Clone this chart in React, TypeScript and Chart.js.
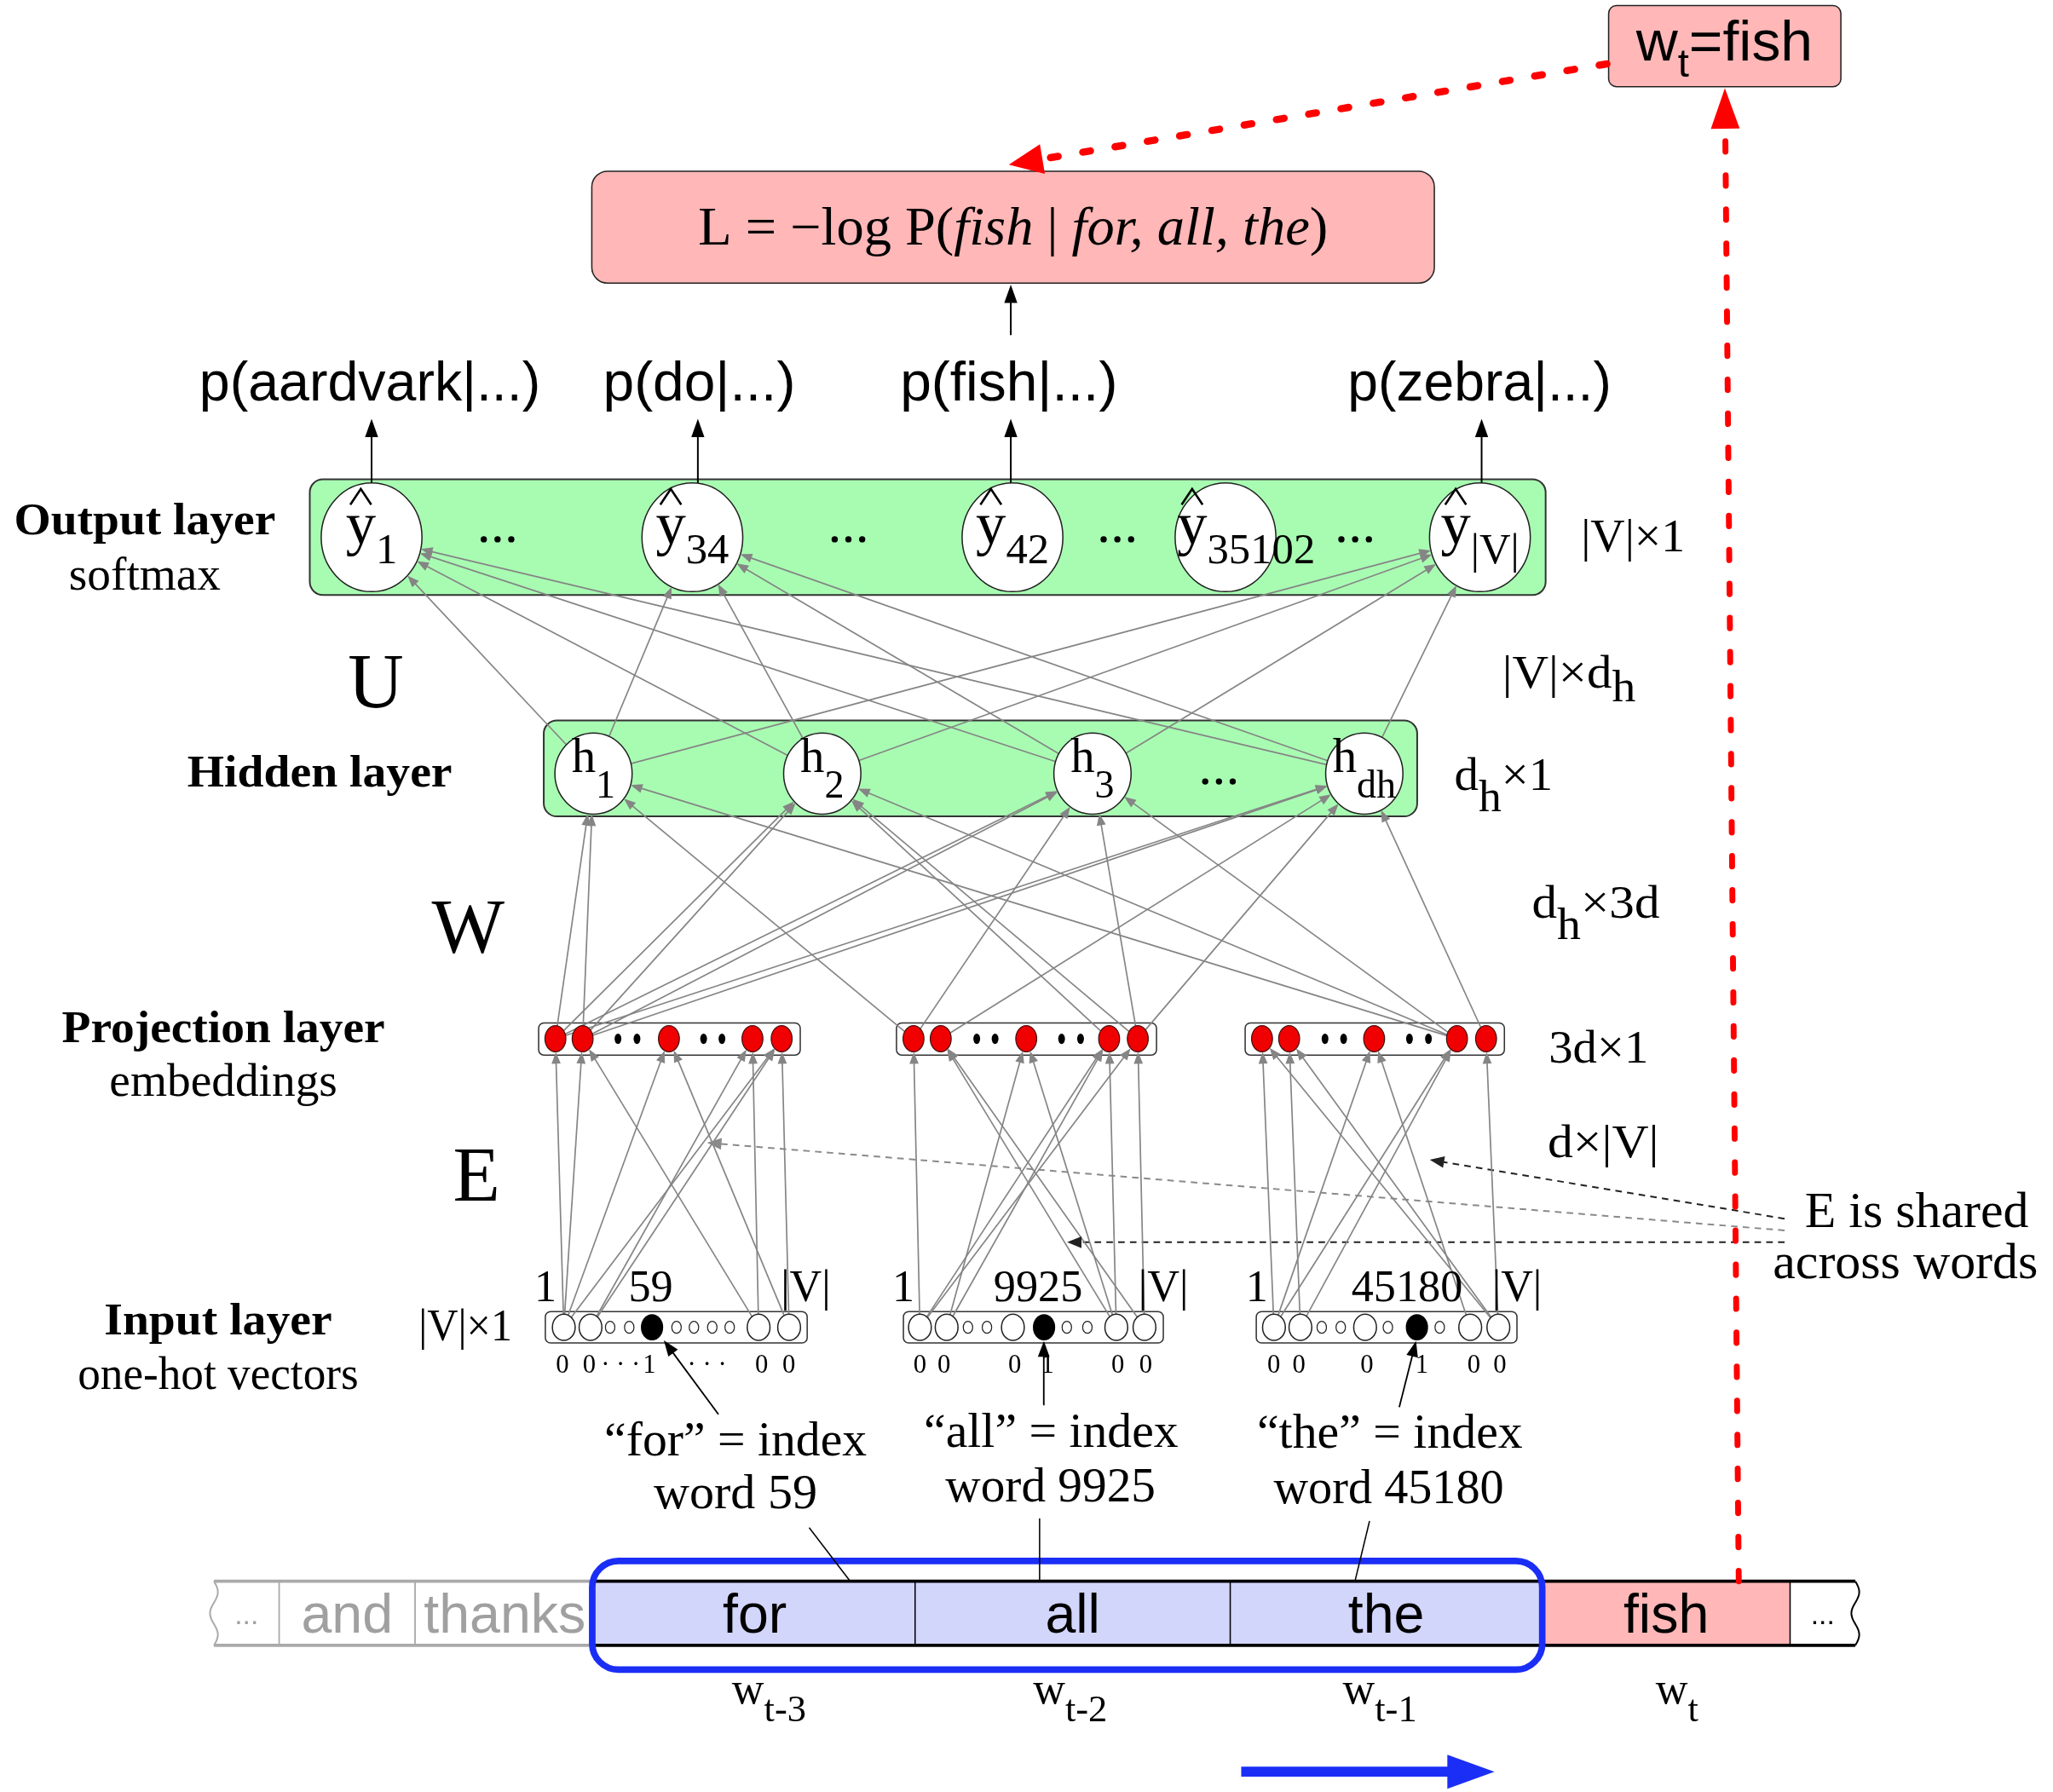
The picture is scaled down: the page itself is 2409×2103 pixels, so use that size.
import React, { useEffect, useRef } from "react";
import { Chart, registerables } from "chart.js";

Chart.register(...registerables);

/* ---------------- values ---------------- */
const targetWord = "fish";
const contextWords = ["for", "all", "the"];
const contextIndices = ["59", "9925", "45180"];
const probWords = ["aardvark", "do", "fish", "zebra"];
const probNodeIndex = [0, 1, 2, 4];
const outputIndices = ["1", "34", "42", "35102", "|V|"];
const hiddenIndices = ["1", "2", "3", "dh"];
const sequenceWords = ["...", "and", "thanks", "for", "all", "the", "fish", "..."];
const sequenceRoles = ["past", "past", "past", "context", "context", "context", "target", "future"];
const positionSubscripts = ["t-3", "t-2", "t-1", "t"];
const layerTitles = ["Output layer", "Hidden layer", "Projection layer", "Input layer"];
const layerSubtitles = ["softmax", "", "embeddings", "one-hot vectors"];
const weightNames = ["U", "W", "E"];
const dimensionLabels = ["|V|×1", "|V|×d_h", "d_h×1", "d_h×3d", "3d×1", "d×|V|", "|V|×1"];
const vectorEndLabels = ["1", "|V|"];
const oneHotDigits = [
  ["0", "0", "· · ·", "1", "· · ·", "0", "0"],
  ["0", "0", "0", "1", "0", "0"],
  ["0", "0", "0", "1", "0", "0"],
];
const inputKinds = ["oossfssssoo", "oossofssoo", "oossosfsoo"];
const projectionKinds = "rrddrddrr";
const sharedNote = ["E is shared", "across words"];
// [hidden, output]
const hiddenToOutputEdges = [
  [0, 0], [0, 1], [0, 4], [1, 0], [1, 1], [1, 4],
  [2, 0], [2, 1], [2, 4], [3, 0], [3, 1], [3, 4],
];
// [block, projection red node, hidden]
const projectionToHiddenEdges = [
  [0, 0, 0], [0, 1, 0], [0, 0, 1], [0, 1, 1], [0, 0, 2], [0, 1, 2], [0, 0, 3], [0, 1, 3],
  [1, 0, 0], [1, 0, 2], [1, 1, 3], [1, 3, 1], [1, 4, 1], [1, 4, 2], [1, 4, 3],
  [2, 3, 0], [2, 3, 1], [2, 3, 2], [2, 4, 3],
];
// [block, input node, projection red node]
const inputToProjectionEdges = [
  [0, 0, 0], [0, 0, 1], [0, 9, 1], [0, 0, 2], [0, 10, 2], [0, 1, 3], [0, 9, 3], [0, 0, 4], [0, 1, 4], [0, 10, 4],
  [1, 0, 0], [1, 0, 3], [1, 1, 3], [1, 1, 2], [1, 0, 4], [1, 8, 1], [1, 9, 1], [1, 8, 2], [1, 8, 3], [1, 9, 4],
  [2, 0, 0], [2, 9, 0], [2, 1, 1], [2, 9, 1], [2, 0, 2], [2, 8, 2], [2, 1, 3], [2, 0, 3], [2, 9, 4],
];

/* ---------------- layout (reference units, 1568 x 1369) ---------------- */
const W = 2409;
const H = 2103;
const REF_W = 1568;
const REF_H = 1369;
const K = W / REF_W;

const SERIF = '"Liberation Serif", "Times New Roman", serif';
const SANS = '"Liberation Sans", Arial, sans-serif';
const GRAY = "#858585";
const PINK = "#ffb7b7";
const GREEN = "#a8fcb2";
const LAV = "#d3d6fb";
const BLUE = "#1b2ef5";

const OUT_Y = 410.5, OUT_RX = 38.5, OUT_RY = 41.5;
const outNodeX = [283.8, 528.8, 773.3, 936, 1130.3];
const outDotsX = [380, 648, 853.4, 1035];
const probLabelX = [282.5, 534, 770.5, 1130];
const probLabelW = [260.6, 147, 166.1, 201.5];
const probArrowX = [283.8, 533, 772, 1131.6];
const HID_Y = 591, HID_RX = 29.5, HID_RY = 31;
const hidNodeX = [453.3, 628, 834.4, 1042];
const HID_DOTS_X = 931;
const projBoxX = [[411.4, 611.2], [684.7, 883.3], [951, 1149]];
const PROJ_Y0 = 781.5, PROJ_Y1 = 806, PROJ_Y = 793.6;
const projSlotX = [
  [424.2, 445, 472, 486.5, 510.9, 537.4, 551.4, 574.7, 597],
  [697.7, 718.5, 746, 760, 783.8, 810.8, 825.3, 847.1, 869],
  [963.9, 984.6, 1012, 1026.2, 1049.5, 1076.5, 1091, 1112.8, 1135],
];
const inBoxX = [[416.5, 616.5], [690, 888.5], [959.5, 1158.6]];
const IN_Y0 = 1002, IN_Y1 = 1026, IN_Y = 1014;
const inNodeX = [
  [430.6, 451, 466, 480.6, 498, 516.7, 530, 544, 557.3, 579.4, 602.7],
  [702.6, 723, 739.3, 753.8, 773.6, 797.4, 814.8, 830.5, 852.6, 874.1],
  [973, 993.2, 1009.5, 1024, 1042.6, 1060, 1082.2, 1099.6, 1122.9, 1144.4],
];
const oneHotX = [
  [429.6, 450, 474, 496, 540, 581.7, 602.5],
  [702.6, 721, 775, 800, 853.7, 875],
  [972.8, 992, 1044, 1086, 1125.7, 1145.6],
];
const endLabelX = [[416.6, 615.4], [690, 888.5], [960, 1158.6]];
const indexLabelX = [497, 792.8, 1074.6];
const wordIdxPos = [[561.8, 1111.7, 200.5], [802.8, 1105.3, 194.4], [1061.5, 1106.3, 202.9]];
const wordNumPos = [[561.7, 1152, 125], [802.3, 1147, 160.6], [1060.7, 1148, 175.9]];
const pointerLines = [[618, 1167, 649, 1207.5], [794, 1160, 794, 1207.5], [1046, 1162, 1035, 1207.5]];
const pointerArrows = [[548.7, 1080.5, 507, 1024], [796.7, 1073, 797.3, 1024.5], [1068.7, 1075, 1081.5, 1024.5]];
const cellEdges = [163.4, 213.2, 317, 454, 698.9, 939.6, 1177.9, 1367.2, 1417];
const STRIP_Y0 = 1208, STRIP_Y1 = 1257;
const posLabelX = [559, 789, 1025.5, 1264.5];
const titlePos = [[110.6, 407.9, 199.6], [244.2, 601, 202.3], [170.6, 796, 246.8], [166.6, 1019.7, 174]];
const subtitlePos = [[110.6, 450.3, 116], null, [170.6, 837, 174.1], [166.6, 1060.8, 214.4]];
const weightPos = [[287, 540.3], [357.5, 727.5], [364, 917]];
const dimPos = [
  [1207.5, 421.4, 79.5, 0], [1147.3, 525.6, 102, 10], [1110.8, 603.7, 75.2, 16], [1170, 701.3, 97.6, 16],
  [1182.8, 812, 76.2, 0], [1182, 884, 85, 0], [319.7, 1024, 71.5, 0],
];
const sharedLines = [[1363, 931, 1092, 886, "#222"], [1363, 940, 540, 873, "#8a8a8a"], [1363, 949, 815, 949, "#222"]];

/* ---------------- geometry helpers ---------------- */
type Pt = { x: number; y: number };
type Ell = { x: number; y: number; rx: number; ry: number };

const RED_SLOTS: number[] = [];
projectionKinds.split("").forEach((c, i) => { if (c === "r") RED_SLOTS.push(i); });

function inputSize(kind: string) {
  if (kind === "s") return [3.6, 4.6];
  if (kind === "f") return [8, 9.5];
  return [8.7, 10];
}
const outNode = (i: number): Ell => ({ x: outNodeX[i], y: OUT_Y, rx: OUT_RX, ry: OUT_RY });
const hidNode = (i: number): Ell => ({ x: hidNodeX[i], y: HID_Y, rx: HID_RX, ry: HID_RY });
const projNode = (b: number, r: number): Ell => ({ x: projSlotX[b][RED_SLOTS[r]], y: PROJ_Y, rx: 8, ry: 10 });
const inNode = (b: number, i: number): Ell => {
  const [rx, ry] = inputSize(inputKinds[b][i]);
  return { x: inNodeX[b][i], y: IN_Y, rx, ry };
};

function rim(e: Ell, toward: Pt): Pt {
  const dx = toward.x - e.x, dy = toward.y - e.y;
  const t = 1 / Math.sqrt((dx / e.rx) ** 2 + (dy / e.ry) ** 2);
  return { x: e.x + dx * t, y: e.y + dy * t };
}

function arrowDS(start: Pt, tip: Pt, color: string, width: number, len: number, half: number, extra: any = {}) {
  const d = Math.hypot(tip.x - start.x, tip.y - start.y);
  const ux = (tip.x - start.x) / d, uy = (tip.y - start.y) / d;
  const base = { x: tip.x - ux * len * 0.7, y: tip.y - uy * len * 0.7 };
  return {
    data: [start, base], showLine: true, borderColor: color, borderWidth: width * K,
    pointRadius: 0, pointHoverRadius: 0, clip: false, arrow: { tip, len, half, color }, ...extra,
  };
}
function lineDS(a: Pt, b: Pt, color: string, width: number) {
  return { data: [a, b], showLine: true, borderColor: color, borderWidth: width * K, pointRadius: 0, pointHoverRadius: 0, clip: false };
}
function edgeDS(a: Ell, b: Ell) {
  return arrowDS(rim(a, b), rim(b, a), GRAY, 1.1, 9, 3.5);
}

function buildDatasets() {
  const ds: any[] = [];
  hiddenToOutputEdges.forEach(([h, o]) => ds.push(edgeDS(hidNode(h), outNode(o))));
  projectionToHiddenEdges.forEach(([b, r, h]) => ds.push(edgeDS(projNode(b, r), hidNode(h))));
  inputToProjectionEdges.forEach(([b, i, r]) => ds.push(edgeDS(inNode(b, i), projNode(b, r))));
  probNodeIndex.forEach((n, i) => {
    ds.push(arrowDS({ x: probArrowX[i], y: OUT_Y - OUT_RY + 0.5 }, { x: probArrowX[i], y: 320 }, "#000", 1.3, 14, 5));
  });
  ds.push(arrowDS({ x: 772, y: 256 }, { x: 772, y: 217.5 }, "#000", 1.3, 14, 5));
  // loss comparison arrows (red)
  ds.push(arrowDS({ x: 1227.3, y: 48.8 }, { x: 770.5, y: 125.8 }, "#ff0000", 5.5, 26, 11.5,
    { borderDash: [6 * K, 19 * K], borderCapStyle: "round" }));
  ds.push(arrowDS({ x: 1328, y: 1208 }, { x: 1317.4, y: 67.3 }, "#ff0000", 4.5, 31, 11,
    { borderDash: [8 * K, 18 * K], borderCapStyle: "round" }));
  pointerLines.forEach(([x0, y0, x1, y1]) => ds.push(lineDS({ x: x0, y: y0 }, { x: x1, y: y1 }, "#000", 1)));
  pointerArrows.forEach(([x0, y0, x1, y1]) => ds.push(arrowDS({ x: x0, y: y0 }, { x: x1, y: y1 }, "#000", 1.2, 12, 4.5)));
  sharedLines.forEach(([x0, y0, x1, y1, c]) =>
    ds.push(arrowDS({ x: x0 as number, y: y0 as number }, { x: x1 as number, y: y1 as number }, c as string, 1.3, 11, 4.5,
      { borderDash: [5 * K, 4 * K] })));
  ds.push(arrowDS({ x: 948, y: 1353.5 }, { x: 1141.4, y: 1353.5 }, BLUE, 7.6, 36, 13));
  return ds;
}

/* ---------------- drawing helpers ---------------- */
function helpers(chart: any) {
  const xs = chart.scales.x, ys = chart.scales.y;
  const X = (v: number) => xs.getPixelForValue(v);
  const Y = (v: number) => ys.getPixelForValue(v);
  const S = (v: number) => v * (X(1) - X(0));
  return { ctx: chart.ctx as CanvasRenderingContext2D, X, Y, S };
}
function fnt(g: any, size: number, fam: string, style = "") {
  return `${style} ${g.S(size)}px ${fam}`.trim();
}
function rrect(g: any, x0: number, y0: number, x1: number, y1: number, r: number) {
  const { ctx } = g;
  const X0 = g.X(x0), Y0 = g.Y(y0), X1 = g.X(x1), Y1 = g.Y(y1), R = g.S(r);
  ctx.beginPath();
  ctx.moveTo(X0 + R, Y0);
  ctx.lineTo(X1 - R, Y0);
  ctx.arcTo(X1, Y0, X1, Y0 + R, R);
  ctx.lineTo(X1, Y1 - R);
  ctx.arcTo(X1, Y1, X1 - R, Y1, R);
  ctx.lineTo(X0 + R, Y1);
  ctx.arcTo(X0, Y1, X0, Y1 - R, R);
  ctx.lineTo(X0, Y0 + R);
  ctx.arcTo(X0, Y0, X0 + R, Y0, R);
  ctx.closePath();
}
function box(g: any, x0: number, y0: number, x1: number, y1: number, r: number, fill: string, stroke: string, lw: number) {
  rrect(g, x0, y0, x1, y1, r);
  g.ctx.fillStyle = fill;
  g.ctx.fill();
  g.ctx.strokeStyle = stroke;
  g.ctx.lineWidth = g.S(lw);
  g.ctx.stroke();
}
function ell(g: any, e: Ell, fill: string | null, stroke: string | null, lw: number) {
  const { ctx } = g;
  ctx.beginPath();
  ctx.ellipse(g.X(e.x), g.Y(e.y), g.S(e.rx), g.S(e.ry), 0, 0, Math.PI * 2);
  if (fill) { ctx.fillStyle = fill; ctx.fill(); }
  if (stroke) { ctx.strokeStyle = stroke; ctx.lineWidth = g.S(lw); ctx.stroke(); }
}
function dots(g: any, cx: number, cy: number, gap: number, r: number) {
  for (let k = -1; k <= 1; k++) ell(g, { x: cx + k * gap, y: cy, rx: r, ry: r }, "#000", null, 0);
}
type Seg = { t: string; f: string; dy?: number };
function rich(g: any, segs: Seg[], x: number, y: number, align: string, color = "#000", fitW?: number) {
  const { ctx } = g;
  ctx.save();
  ctx.textBaseline = "alphabetic";
  ctx.textAlign = "left";
  ctx.fillStyle = color;
  const widths = segs.map((s) => { ctx.font = s.f; return ctx.measureText(s.t).width; });
  const total = widths.reduce((a, b) => a + b, 0);
  const sx = fitW ? g.S(fitW) / total : 1;
  const px = g.X(x);
  const left = align === "center" ? px - (total * sx) / 2 : align === "right" ? px - total * sx : px;
  ctx.translate(left, g.Y(y));
  ctx.scale(sx, 1);
  let cx = 0;
  segs.forEach((s, i) => {
    ctx.font = s.f;
    ctx.fillText(s.t, cx, g.S(s.dy || 0));
    cx += widths[i];
  });
  ctx.restore();
  return total * sx / g.S(1);
}
function text(g: any, t: string, x: number, y: number, f: string, align = "center", color = "#000", fitW?: number) {
  return rich(g, [{ t, f }], x, y, align, color, fitW);
}
function subSegs(g: any, label: string, size: number, subSize: number, dy: number): Seg[] {
  const segs: Seg[] = [];
  let buf = "";
  for (let i = 0; i < label.length; i++) {
    if (label[i] === "_" && i + 1 < label.length) {
      if (buf) segs.push({ t: buf, f: fnt(g, size, SERIF) });
      buf = "";
      segs.push({ t: label[i + 1], f: fnt(g, subSize, SERIF), dy });
      i++;
    } else buf += label[i];
  }
  if (buf) segs.push({ t: buf, f: fnt(g, size, SERIF) });
  return segs;
}

function drawBackground(g: any) {
  const { ctx } = g;
  ctx.save();
  box(g, 1228.6, 4.3, 1406, 66.2, 6, PINK, "#222", 1);
  box(g, 452, 130.8, 1095.5, 216.3, 12, PINK, "#222", 1);
  box(g, 236.6, 366.2, 1180.5, 454.5, 10, GREEN, "#333", 1.3);
  box(g, 415.3, 550.4, 1082.4, 623.7, 10, GREEN, "#333", 1.3);
  projBoxX.forEach(([a, b]) => box(g, a, PROJ_Y0, b, PROJ_Y1, 4, "#fff", "#333", 1));
  inBoxX.forEach(([a, b]) => box(g, a, IN_Y0, b, IN_Y1, 4, "#fff", "#333", 1));

  sequenceWords.forEach((w, i) => {
    const role = sequenceRoles[i];
    const fill = role === "context" ? LAV : role === "target" ? PINK : "#fff";
    ctx.fillStyle = fill;
    ctx.fillRect(g.X(cellEdges[i]), g.Y(STRIP_Y0), g.X(cellEdges[i + 1]) - g.X(cellEdges[i]), g.Y(STRIP_Y1) - g.Y(STRIP_Y0));
  });
  const hline = (x0: number, x1: number, y: number, c: string, lw: number) => {
    ctx.beginPath(); ctx.moveTo(g.X(x0), g.Y(y)); ctx.lineTo(g.X(x1), g.Y(y));
    ctx.strokeStyle = c; ctx.lineWidth = g.S(lw); ctx.stroke();
  };
  const vline = (x: number, c: string, lw: number) => {
    ctx.beginPath(); ctx.moveTo(g.X(x), g.Y(STRIP_Y0)); ctx.lineTo(g.X(x), g.Y(STRIP_Y1));
    ctx.strokeStyle = c; ctx.lineWidth = g.S(lw); ctx.stroke();
  };
  const wave = (x: number, c: string) => {
    ctx.beginPath();
    for (let k = 0; k <= 40; k++) {
      const t = k / 40;
      const px = x + 3 * Math.sin(t * Math.PI * 2 * 1.5);
      const py = STRIP_Y0 + (STRIP_Y1 - STRIP_Y0) * t;
      if (k === 0) ctx.moveTo(g.X(px), g.Y(py)); else ctx.lineTo(g.X(px), g.Y(py));
    }
    ctx.strokeStyle = c; ctx.lineWidth = g.S(1.3); ctx.stroke();
  };
  const pastEnd = cellEdges[3];
  hline(cellEdges[0], pastEnd, STRIP_Y0, "#aaa", 2.5);
  hline(cellEdges[0], pastEnd, STRIP_Y1, "#aaa", 2.5);
  hline(pastEnd, cellEdges[8], STRIP_Y0, "#000", 2.5);
  hline(pastEnd, cellEdges[8], STRIP_Y1, "#000", 2.5);
  vline(cellEdges[1], "#aaa", 1.2);
  vline(cellEdges[2], "#aaa", 1.2);
  for (let i = 3; i <= 7; i++) vline(cellEdges[i], "#000", 1);
  wave(cellEdges[0], "#aaa");
  wave(cellEdges[8], "#000");
  rrect(g, 452.3, 1192.5, 1177.9, 1275.5, 20);
  ctx.strokeStyle = BLUE;
  ctx.lineWidth = g.S(5);
  ctx.stroke();
  ctx.restore();
}

function drawNodes(g: any) {
  const { ctx } = g;
  ctx.save();
  outNodeX.forEach((_, i) => ell(g, outNode(i), "#fff", "#222", 1));
  hidNodeX.forEach((_, i) => ell(g, hidNode(i), "#fff", "#222", 1));
  projSlotX.forEach((slots) => {
    slots.forEach((x, s) => {
      if (projectionKinds[s] === "r") ell(g, { x, y: PROJ_Y, rx: 8, ry: 10 }, "#f00000", "#401010", 0.8);
      else ell(g, { x, y: PROJ_Y, rx: 2.6, ry: 4 }, "#000", null, 0);
    });
  });
  inNodeX.forEach((xs, b) => {
    xs.forEach((x, i) => {
      const kind = inputKinds[b][i];
      const [rx, ry] = inputSize(kind);
      if (kind === "f") ell(g, { x, y: IN_Y, rx, ry }, "#000", "#000", 1);
      else ell(g, { x, y: IN_Y, rx, ry }, "#fff", "#222", kind === "s" ? 0.8 : 1);
    });
  });
  ctx.restore();
}

function drawArrowHeads(chart: any, g: any) {
  const { ctx } = g;
  ctx.save();
  chart.data.datasets.forEach((ds: any) => {
    if (!ds.arrow) return;
    const { tip, len, half, color } = ds.arrow;
    const start = ds.data[0];
    const d = Math.hypot(tip.x - start.x, tip.y - start.y);
    const ux = (tip.x - start.x) / d, uy = (tip.y - start.y) / d;
    const bx = tip.x - ux * len, by = tip.y - uy * len;
    const nx = -uy, ny = ux;
    ctx.beginPath();
    ctx.moveTo(g.X(tip.x), g.Y(tip.y));
    ctx.lineTo(g.X(bx + nx * half), g.Y(by + ny * half));
    ctx.lineTo(g.X(bx - nx * half), g.Y(by - ny * half));
    ctx.closePath();
    ctx.fillStyle = color;
    ctx.fill();
  });
  ctx.restore();
}

function drawTexts(g: any) {
  const { ctx } = g;
  rich(g, [
    { t: "w", f: fnt(g, 43, SANS) },
    { t: "t", f: fnt(g, 30, SANS), dy: 12.6 },
    { t: "=" + targetWord, f: fnt(g, 43, SANS) },
  ], 1317, 46, "center", "#000", 135);
  rich(g, [
    { t: "L = \u2212log P(", f: fnt(g, 41, SERIF) },
    { t: targetWord, f: fnt(g, 41, SERIF, "italic") },
    { t: " | ", f: fnt(g, 41, SERIF) },
    { t: contextWords.join(", "), f: fnt(g, 41, SERIF, "italic") },
    { t: ")", f: fnt(g, 41, SERIF) },
  ], 773.75, 186.6, "center", "#000", 481);
  probWords.forEach((w, i) => text(g, `p(${w}|...)`, probLabelX[i], 306, fnt(g, 42, SANS), "center", "#000", probLabelW[i]));
  outputIndices.forEach((idx, i) => {
    const segs = [{ t: "y", f: fnt(g, 46, SERIF) }, { t: idx, f: fnt(g, 33, SERIF), dy: 15 }];
    ctx.font = segs[0].f;
    const yw = ctx.measureText("y").width / g.S(1);
    ctx.font = segs[1].f;
    const sw = ctx.measureText(idx).width / g.S(1);
    const cx = outNodeX[i];
    const left = Math.max(cx - (yw + sw) / 2, cx - OUT_RX + 1.5);
    rich(g, segs, left, 415, "left");
    const hx = left + yw / 2;
    ctx.beginPath();
    ctx.moveTo(g.X(hx - 8), g.Y(385.5));
    ctx.lineTo(g.X(hx), g.Y(373.5));
    ctx.lineTo(g.X(hx + 8), g.Y(385.5));
    ctx.strokeStyle = "#000";
    ctx.lineWidth = g.S(1.7);
    ctx.stroke();
  });
  outDotsX.forEach((x) => dots(g, x, 412, 10.5, 2.4));
  hiddenIndices.forEach((idx, i) => {
    rich(g, [{ t: "h", f: fnt(g, 37, SERIF) }, { t: idx, f: fnt(g, 30, SERIF), dy: 19 }], hidNodeX[i], 590, "center");
  });
  dots(g, HID_DOTS_X, 597, 10.5, 2.4);
  layerTitles.forEach((t, i) => {
    const [x, y, w] = titlePos[i];
    text(g, t, x, y, fnt(g, 35, SERIF, "bold"), "center", "#000", w);
    const sp = subtitlePos[i];
    if (sp && layerSubtitles[i]) text(g, layerSubtitles[i], sp[0], sp[1], fnt(g, 36, SERIF), "center", "#000", sp[2]);
  });
  weightNames.forEach((t, i) => text(g, t, weightPos[i][0], weightPos[i][1], fnt(g, 59, SERIF)));
  dimensionLabels.forEach((d, i) => {
    const [x, y, w, dy] = dimPos[i];
    const size = i === dimensionLabels.length - 1 ? 34 : 36;
    rich(g, subSegs(g, d, size, 34, dy), x, y, "left", "#000", w);
  });
  contextIndices.forEach((idx, b) => {
    text(g, vectorEndLabels[0], endLabelX[b][0], 994, fnt(g, 34, SERIF));
    text(g, idx, indexLabelX[b], 994, fnt(g, 34, SERIF));
    text(g, vectorEndLabels[1], endLabelX[b][1], 994, fnt(g, 34, SERIF));
    oneHotDigits[b].forEach((d, k) => text(g, d, oneHotX[b][k], 1049, fnt(g, 20, SERIF)));
    const [ix, iy, iw] = wordIdxPos[b];
    text(g, `\u201C${contextWords[b]}\u201D = index`, ix, iy, fnt(g, 37, SERIF), "center", "#000", iw);
    const [nx, ny, nw] = wordNumPos[b];
    text(g, `word ${idx}`, nx, ny, fnt(g, 37, SERIF), "center", "#000", nw);
  });
  text(g, sharedNote[0], 1378.4, 937.6, fnt(g, 39, SERIF), "left");
  text(g, sharedNote[1], 1354, 976.5, fnt(g, 39, SERIF), "left");
  sequenceWords.forEach((w, i) => {
    const cx = (cellEdges[i] + cellEdges[i + 1]) / 2;
    const color = sequenceRoles[i] === "past" ? "#a0a0a0" : "#000";
    if (w === "...") text(g, w, cx, 1241, fnt(g, 22, SANS), "center", color);
    else text(g, w, cx, 1247, fnt(g, 42, SANS), "center", color);
  });
  positionSubscripts.forEach((s, i) => {
    rich(g, [{ t: "w", f: fnt(g, 34, SERIF) }, { t: s, f: fnt(g, 29, SERIF), dy: 14 }], posLabelX[i], 1301, "left");
  });
}

const diagramPlugin = {
  id: "nplmDiagram",
  beforeDatasetsDraw(chart: any) {
    drawBackground(helpers(chart));
  },
  afterDatasetsDraw(chart: any) {
    const g = helpers(chart);
    drawNodes(g);
    drawArrowHeads(chart, g);
    drawTexts(g);
  },
};

export default function App() {
  const ref = useRef<HTMLCanvasElement>(null);
  useEffect(() => {
    const canvas = ref.current;
    if (!canvas) return;
    const chart = new Chart(canvas, {
      type: "scatter",
      data: { datasets: buildDatasets() },
      options: {
        responsive: false,
        maintainAspectRatio: false,
        animation: false,
        devicePixelRatio: 1,
        events: [],
        layout: { padding: 0 },
        plugins: { legend: { display: false }, tooltip: { enabled: false } },
        scales: {
          x: { type: "linear", min: 0, max: REF_W, display: false },
          y: { type: "linear", min: 0, max: REF_H, reverse: true, display: false },
        },
      },
      plugins: [diagramPlugin],
    } as any);
    return () => chart.destroy();
  }, []);
  return (
    <div style={{ position: "fixed", left: 0, top: 0, width: W, height: H, background: "#fff" }}>
      <canvas ref={ref} width={W} height={H} style={{ width: W, height: H, display: "block" }} />
    </div>
  );
}
